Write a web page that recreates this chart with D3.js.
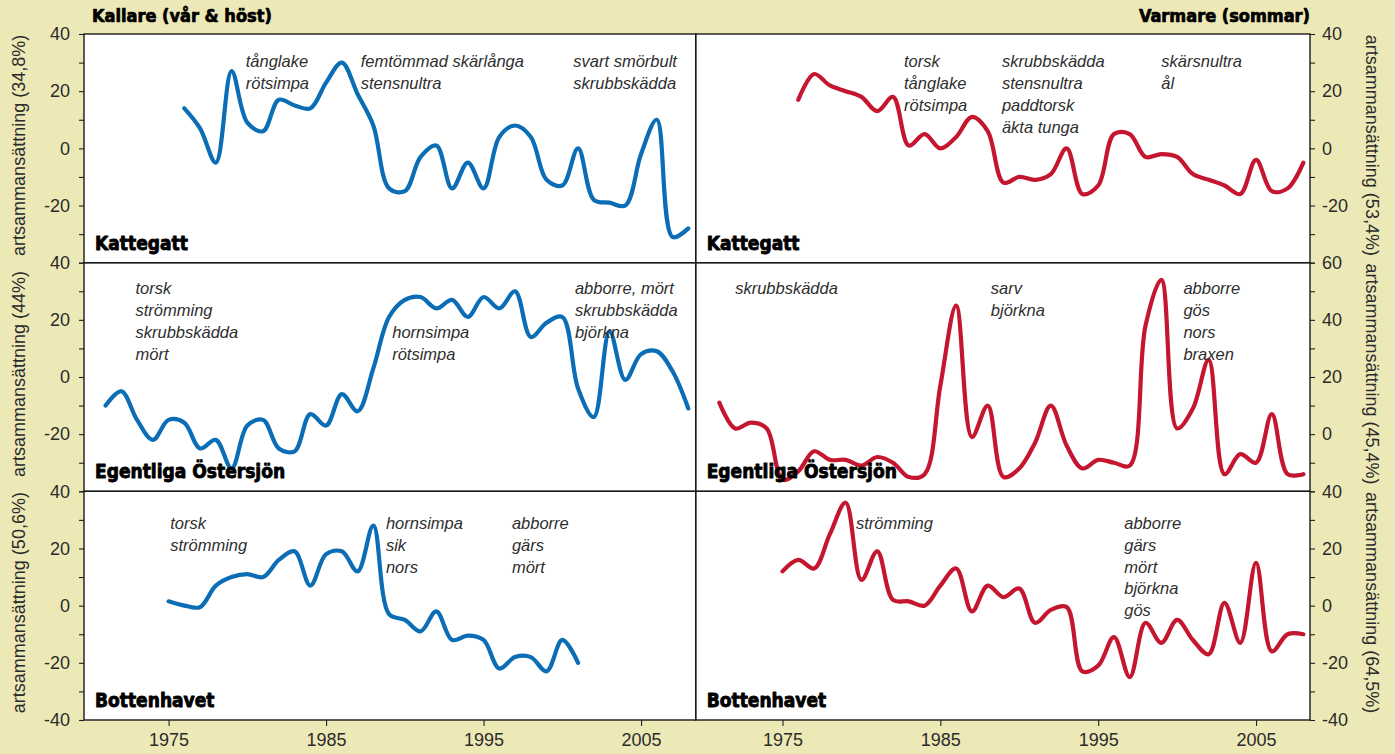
<!DOCTYPE html>
<html><head><meta charset="utf-8">
<script src="https://cdn.jsdelivr.net/npm/d3@7"></script>
<style>
body{margin:0;background:#ede9b7;}
svg{display:block}
.tick text{font-family:"Liberation Sans",Arial,sans-serif;font-size:18px;fill:#2b2b2b;}
</style>
</head><body>
<svg id="c" width="1395" height="754"></svg>
<script>
// ---------------- DATA ----------------
const xTickYears = [1975, 1985, 1995, 2005];
const yTicksStd = [-40, -30, -20, -10, 0, 10, 20, 30, 40];
const yTicksShift = [-20, -10, 0, 10, 20, 30, 40, 50, 60];

// Kattegatt, cold season (vår & höst), 1976-2008
const katColdStart = 1976;
const katCold = [14, 7, -5, 27, 9, 6, 17, 15, 14, 23, 30, 19, 8, -14, -15, -3, 1, -14, -5, -14, 4, 8, 4, -11, -13, 0, -18, -19, -20, -2, 10, -31, -28];
// Kattegatt, warm season (sommar), 1976-2008
const katWarmStart = 1976;
const katWarm = [17, 26, 22, 20, 18, 13, 18, 1, 5, 0, 4, 11, 6, -12, -10, -11, -9, 0, -16, -13, 5, 5, -3, -2, -3, -9, -11, -13, -16, -4, -15, -14, -5];
// Egentliga Östersjön, cold, 1971-2008
const egColdStart = 1971;
const egCold = [-10, -5, -15, -22, -15, -16, -25, -22, -32, -17, -15, -25, -26, -13, -17, -6, -12, 3, 21, 27, 28, 24, 27, 21, 28, 24, 30, 14, 19, 21, -4, -14, 16, -1, 8, 9, 2, -11];
// Egentliga Östersjön, warm, 1971-2008
const egWarmStart = 1971;
const egWarm = [11, 2, 4, 2, -16, -13, -6, -9, -9, -11, -8, -10, -15, -14, 17, 45, -1, 10, -15, -12, -3, 10, -4, -12, -9, -10, -11, 38, 54, 2, 9, 26, -14, -7, -10, 7, -14, -14];
// Bottenhavet, cold, 1975-2001
const botColdStart = 1975;
const botCold = [1.5, 0, -0.5, 7, 10, 11, 10, 16, 19, 7, 18, 19, 12, 28, -3, -5, -9, -2, -12, -10.5, -12, -22, -18, -18, -23, -12, -20];
// Bottenhavet, warm, 1975-2008
const botWarmStart = 1975;
const botWarm = [12, 16, 13, 25, 36, 9, 19, 2, 1.5, 0, 7, 13, -2, 7, 3, 6, -6, -1.5, -0.5, -23, -21, -11, -25, -6, -13, -5, -12, -17, 1, -13, 15, -16, -10, -10];

const seasonTitles = ["Kallare (vår & höst)", "Varmare (sommar)"];
const regionNames = ["Kattegatt", "Egentliga Östersjön", "Bottenhavet"];
const axisTitlesLeft = ["artsammansättning (34,8%)", "artsammansättning (44%)", "artsammansättning (50,6%)"];
const axisTitlesRight = ["artsammansättning (53,4%)", "artsammansättning (45,4%)", "artsammansättning (64,5%)"];

// species notes, anchored in data units (year, value of first line)
const notesKatCold = [
  {year: 1979.9, value: 28.4, lines: ["tånglake", "rötsimpa"]},
  {year: 1987.2, value: 28.4, lines: ["femtömmad skärlånga", "stensnultra"]},
  {year: 2000.7, value: 28.4, lines: ["svart smörbult", "skrubbskädda"]}
];
const notesKatWarm = [
  {year: 1982.7, value: 28.4, lines: ["torsk", "tånglake", "rötsimpa"]},
  {year: 1988.9, value: 28.4, lines: ["skrubbskädda", "stensnultra", "paddtorsk", "äkta tunga"]},
  {year: 1999.0, value: 28.4, lines: ["skärsnultra", "ål"]}
];
const notesEgCold = [
  {year: 1972.9, value: 29, lines: ["torsk", "strömming", "skrubbskädda", "mört"]},
  {year: 1989.2, value: 13.6, lines: ["hornsimpa", "rötsimpa"]},
  {year: 2000.8, value: 29, lines: ["abborre, mört", "skrubbskädda", "björkna"]}
];
const notesEgWarm = [
  {year: 1972.0, value: 49, lines: ["skrubbskädda"]},
  {year: 1988.2, value: 49, lines: ["sarv", "björkna"]},
  {year: 2000.4, value: 49, lines: ["abborre", "gös", "nors", "braxen"]}
];
const notesBotCold = [
  {year: 1975.1, value: 26.8, lines: ["torsk", "strömming"]},
  {year: 1988.8, value: 26.8, lines: ["hornsimpa", "sik", "nors"]},
  {year: 1996.8, value: 26.8, lines: ["abborre", "gärs", "mört"]}
];
const notesBotWarm = [
  {year: 1979.65, value: 26.8, lines: ["strömming"]},
  {year: 1996.65, value: 26.8, lines: ["abborre", "gärs", "mört", "björkna", "gös"]}
];

// ---------------- LAYOUT ----------------
const BLUE = "#0b6db5", RED = "#c4162f";
const colX = [[84, 695.7], [695.7, 1310]];
const rowY = [[34, 262.7], [262.7, 491.3], [491.3, 720]];
const xDomains = [[1969.63, 2008.47], [1969.5, 2008.42]];
const FONT = '"Liberation Sans", Arial, sans-serif';
const BOLD = '"DejaVu Sans Condensed", "Liberation Sans", Arial, sans-serif';

const toPts = (start, vals) => vals.map((v, i) => ({year: start + i, value: v}));

const panels = [
  {r: 0, c: 0, pts: toPts(katColdStart, katCold), color: BLUE, dom: [-40, 40], notes: notesKatCold},
  {r: 0, c: 1, pts: toPts(katWarmStart, katWarm), color: RED, dom: [-40, 40], notes: notesKatWarm},
  {r: 1, c: 0, pts: toPts(egColdStart, egCold), color: BLUE, dom: [-40, 40], notes: notesEgCold},
  {r: 1, c: 1, pts: toPts(egWarmStart, egWarm), color: RED, dom: [-20, 60], notes: notesEgWarm},
  {r: 2, c: 0, pts: toPts(botColdStart, botCold), color: BLUE, dom: [-40, 40], notes: notesBotCold},
  {r: 2, c: 1, pts: toPts(botWarmStart, botWarm), color: RED, dom: [-40, 40], notes: notesBotWarm}
];

const svg = d3.select("#c");
svg.append("rect").attr("width", 1395).attr("height", 754).attr("fill", "#ede9b7");

const xs = colX.map((rg, c) => d3.scaleLinear().domain(xDomains[c]).range(rg));

// white panels
panels.forEach(p => {
  svg.append("rect")
    .attr("x", colX[p.c][0]).attr("y", rowY[p.r][0])
    .attr("width", colX[p.c][1] - colX[p.c][0]).attr("height", rowY[p.r][1] - rowY[p.r][0])
    .attr("fill", "#fff");
});

panels.forEach(p => {
  const x = xs[p.c];
  const y = d3.scaleLinear().domain(p.dom).range([rowY[p.r][1], rowY[p.r][0]]);
  p.y = y;
  const line = d3.line().x(d => x(d.year)).y(d => y(d.value)).curve(d3.curveCatmullRom.alpha(0.5));
  svg.append("path").datum(p.pts)
    .attr("d", line).attr("fill", "none")
    .attr("stroke", p.color).attr("stroke-width", 4.2)
    .attr("stroke-linejoin", "round").attr("stroke-linecap", "round");

  // y axis
  const ticks = p.dom[0] === -20 ? yTicksShift : yTicksStd;
  const showLabel = v => (v % 20 === 0) && (p.r === 2 || v !== p.dom[0]);
  const ax = (p.c === 0 ? d3.axisLeft(y) : d3.axisRight(y))
    .tickValues(ticks).tickSize(5).tickPadding(p.c === 0 ? 9 : 7)
    .tickFormat(v => showLabel(v) ? String(v) : "");
  const g = svg.append("g")
    .attr("transform", `translate(${p.c === 0 ? colX[0][0] : colX[1][1]},0)`)
    .call(ax);
  g.select(".domain").remove();
  g.selectAll(".tick line").attr("stroke", "#222").attr("stroke-width", 1.1);

  // notes
  p.notes.forEach(n => {
    const t = svg.append("text")
      .attr("x", x(n.year)).attr("y", y(n.value))
      .attr("font-family", FONT).attr("font-style", "italic")
      .attr("font-size", 16.5).attr("fill", "#2e2e2e");
    n.lines.forEach((ln, i) => {
      t.append("tspan").attr("x", x(n.year)).attr("dy", i === 0 ? 0 : 21.8).text(ln);
    });
  });

  // region name
  svg.append("text")
    .attr("x", colX[p.c][0] + 11).attr("y", rowY[p.r][1] - 13)
    .attr("font-family", BOLD).attr("font-weight", "bold")
    .attr("font-size", 19).attr("fill", "#000")
    .attr("stroke", "#000").attr("stroke-width", 0.8).attr("stroke-linejoin", "round")
    .text(regionNames[p.r]);
});

// panel borders
panels.forEach(p => {
  svg.append("rect")
    .attr("x", colX[p.c][0]).attr("y", rowY[p.r][0])
    .attr("width", colX[p.c][1] - colX[p.c][0]).attr("height", rowY[p.r][1] - rowY[p.r][0])
    .attr("fill", "none").attr("stroke", "#1a1a1a").attr("stroke-width", 1.4);
});

// x axes
xs.forEach((x, c) => {
  const g = svg.append("g").attr("transform", `translate(0,${rowY[2][1]})`)
    .call(d3.axisBottom(x).tickValues(xTickYears).tickSize(6).tickPadding(7).tickFormat(d3.format("d")));
  g.select(".domain").remove();
  g.selectAll(".tick line").attr("stroke", "#222").attr("stroke-width", 1.1);
});

// season titles
svg.append("text").attr("x", 92).attr("y", 22)
  .attr("font-family", BOLD).attr("font-weight", "bold").attr("font-size", 18)
  .attr("stroke", "#000").attr("stroke-width", 0.7).attr("stroke-linejoin", "round")
  .text(seasonTitles[0]);
svg.append("text").attr("x", 1310).attr("y", 22).attr("text-anchor", "end")
  .attr("font-family", BOLD).attr("font-weight", "bold").attr("font-size", 18)
  .attr("stroke", "#000").attr("stroke-width", 0.7).attr("stroke-linejoin", "round")
  .text(seasonTitles[1]);

// rotated axis titles
rowY.forEach((ry, r) => {
  const cy = (ry[0] + ry[1]) / 2 - 3;
  svg.append("text")
    .attr("transform", `translate(25,${cy}) rotate(-90)`)
    .attr("text-anchor", "middle")
    .attr("font-family", FONT).attr("font-size", 18).attr("fill", "#2b2b2b")
    .text(axisTitlesLeft[r]);
  svg.append("text")
    .attr("transform", `translate(1366,${cy}) rotate(90)`)
    .attr("text-anchor", "middle")
    .attr("font-family", FONT).attr("font-size", 18).attr("fill", "#2b2b2b")
    .text(axisTitlesRight[r]);
});
</script>
</body></html>
